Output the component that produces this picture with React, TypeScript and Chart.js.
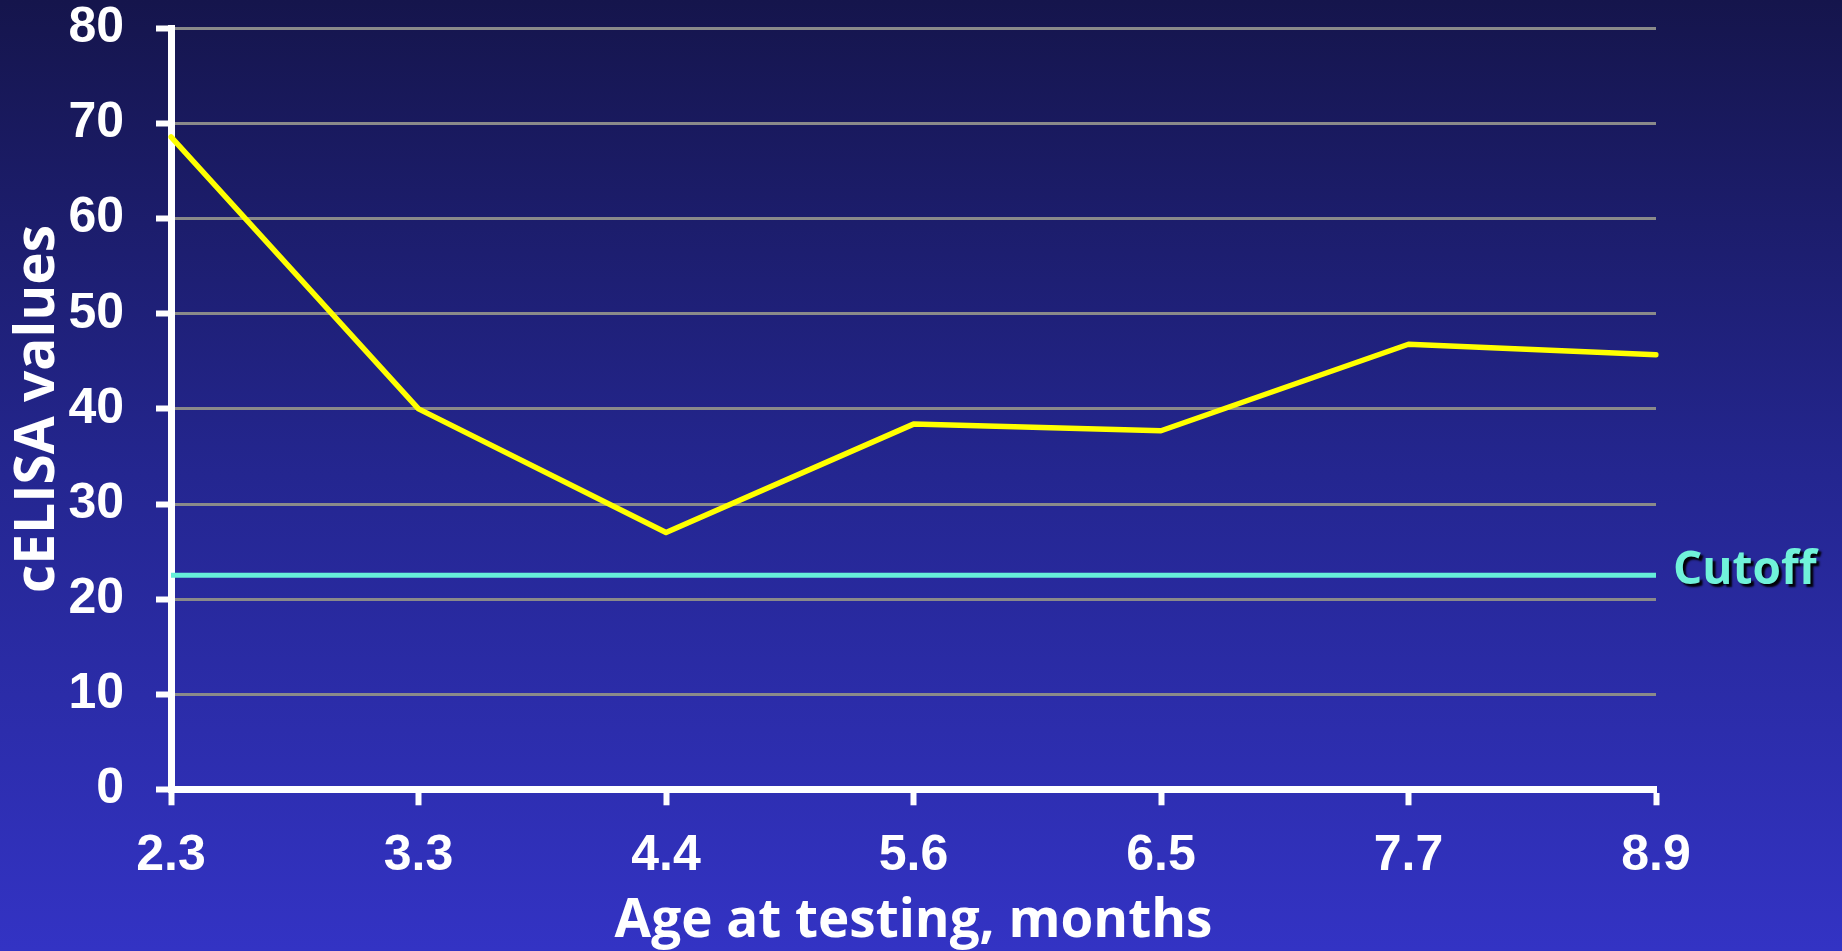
import React, { useEffect, useRef } from "react";
import { Chart, registerables } from "chart.js";

Chart.register(...registerables);

const ageLabels = ["2.3", "3.3", "4.4", "5.6", "6.5", "7.7", "8.9"];
const celisaValues = [68.6, 40.0, 27.0, 38.4, 37.7, 46.8, 45.7];
const cutoffValue = 22.5;
const cutoffValues = [22.5, 22.5, 22.5, 22.5, 22.5, 22.5, 22.5];
const yMin = 0;
const yMax = 80;
const yStep = 10;
const xTitle = "Age at testing, months";
const yTitle = "cELISA values";
const cutoffText = "Cutoff";

const W = 1842;
const H = 951;

const cutoffLabelPlugin = {
  id: "cutoffLabel",
  afterDatasetsDraw(chart: any) {
    const { ctx, chartArea, scales } = chart;
    const y = scales.y.getPixelForValue(cutoffValue);
    ctx.save();
    ctx.font = "bold 46px 'Open Sans'";
    ctx.textAlign = "left";
    ctx.textBaseline = "middle";
    ctx.shadowColor = "rgba(0,0,0,0.95)";
    ctx.shadowOffsetX = 3;
    ctx.shadowOffsetY = 3;
    ctx.shadowBlur = 2;
    ctx.fillStyle = "#70f2da";
    ctx.fillText(cutoffText, chartArea.right + 17, y - 4);
    ctx.restore();
  },
};

const zeroPad = (s: any) => {
  s.paddingTop = 0;
  s.paddingBottom = 0;
  s.paddingLeft = 0;
  s.paddingRight = 0;
};

export default function App() {
  const ref = useRef<HTMLCanvasElement | null>(null);

  useEffect(() => {
    if (!ref.current) return;
    const chart = new Chart(ref.current, {
      type: "line",
      data: {
        labels: ageLabels,
        datasets: [
          {
            label: "Cutoff",
            data: cutoffValues,
            borderColor: "#66efd9",
            borderWidth: 5,
            pointRadius: 0,
            tension: 0,
            fill: false,
          },
          {
            label: "cELISA",
            data: celisaValues,
            borderColor: "#ffff00",
            borderWidth: 5.5,
            pointRadius: 0,
            tension: 0,
            borderCapStyle: "round",
            borderJoinStyle: "round",
            fill: false,
          },
        ],
      },
      options: {
        animation: false,
        responsive: false,
        devicePixelRatio: 1,
        layout: {
          autoPadding: false,
          padding: { top: 28.5, right: 186, left: 0, bottom: 0 },
        },
        plugins: {
          legend: { display: false },
          tooltip: { enabled: false },
        },
        scales: {
          x: {
            type: "category",
            offset: false,
            afterFit: (s: any) => {
              s.height = H - 789.3;
              zeroPad(s);
            },
            grid: {
              drawOnChartArea: false,
              drawTicks: true,
              tickLength: 16,
              tickWidth: 6,
              tickColor: "#ffffff",
            },
            border: { color: "#ffffff", width: 7 },
            ticks: {
              color: "#ffffff",
              padding: 21,
              maxRotation: 0,
              font: { family: "'Liberation Sans', Arial, sans-serif", size: 50, weight: "bold", lineHeight: 1.2 },
            },
            title: {
              display: true,
              text: xTitle,
              color: "#ffffff",
              padding: { top: 0, bottom: 0 },
              font: { family: "'Open Sans', sans-serif", size: 53, weight: "bold", lineHeight: 1.1 },
            },
          },
          y: {
            min: yMin,
            max: yMax,
            afterFit: (s: any) => {
              s.width = 171;
              zeroPad(s);
            },
            grid: {
              color: "#8a8a8a",
              lineWidth: 3,
              drawTicks: true,
              tickLength: 15,
              tickWidth: 6,
              tickColor: "#ffffff",
            },
            border: { color: "#ffffff", width: 7 },
            ticks: {
              stepSize: yStep,
              color: "#ffffff",
              padding: 32,
              font: { family: "'Liberation Sans', Arial, sans-serif", size: 50, weight: "bold", lineHeight: 1 },
            },
            title: {
              display: true,
              text: yTitle,
              color: "#ffffff",
              padding: { top: 5, bottom: 0 },
              font: { family: "'Open Sans', sans-serif", size: 55, weight: "bold", lineHeight: 1.2 },
            },
          },
        },
      },
      plugins: [cutoffLabelPlugin],
    } as any);
    return () => chart.destroy();
  }, []);

  return (
    <div
      style={{
        position: "fixed",
        left: 0,
        top: 0,
        width: W,
        height: H,
        background: "linear-gradient(to bottom, #15154c 0%, #242690 50%, #3333c4 100%)",
      }}
    >
      <canvas ref={ref} width={W} height={H} style={{ display: "block", width: W, height: H }} />
    </div>
  );
}
